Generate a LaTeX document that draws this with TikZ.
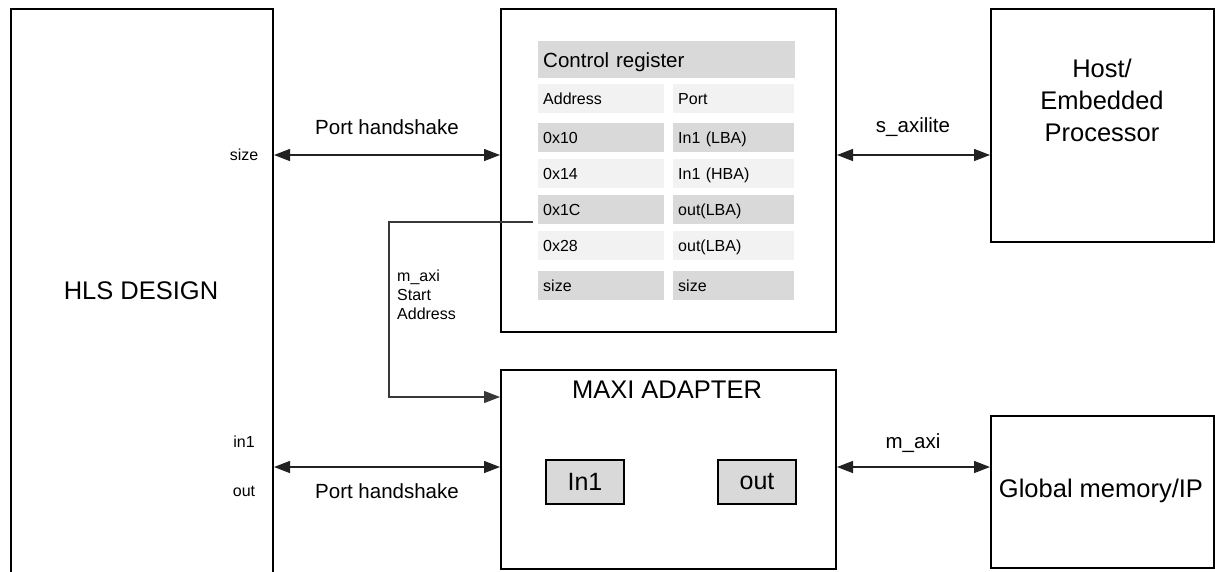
\documentclass[tikz,border=0pt]{standalone}
\usepackage{fontspec}
\setmainfont{Liberation Sans}
\usetikzlibrary{arrows.meta,calc}
\definecolor{cdark}{HTML}{D9D9D9}
\definecolor{clight}{HTML}{F2F2F2}
\definecolor{cline}{HTML}{222222}
\begin{document}
\begin{tikzpicture}[x=1pt,y=-1pt,
  box/.style={draw=black, line width=2pt, inner sep=0pt, anchor=north west},
  conn/.style={draw=cline, line width=1.4pt, {Triangle[length=16pt,width=12pt]}-{Triangle[length=16pt,width=12pt]}},
  startline/.style={draw=cline!90, line width=1.1pt, -{Triangle[length=16pt,width=12pt]}},
  cell/.style={anchor=north west, inner xsep=5pt, inner ysep=0pt, minimum height=29pt, text height=11.5pt, text depth=0.5pt, align=left, font=\fontsize{16}{19}\selectfont},
  lc/.style={cell, text width=116pt},
  rc/.style={cell, text width=111pt},
  dk/.style={fill=cdark},
  lt/.style={fill=clight},
  lbl/.style={font=\fontsize{20.5}{24}\selectfont, inner sep=0pt},
  small/.style={font=\fontsize{16}{19}\selectfont, inner sep=0pt},
  big/.style={font=\fontsize{25.5}{32}\selectfont, inner sep=0pt, align=center},
  port/.style={box, fill=cdark, minimum width=78pt, minimum height=44pt, font=\fontsize{25}{28}\selectfont}
]
\useasboundingbox (0,0) rectangle (1215,571);
\clip (0,0) rectangle (1215,571);

% main boxes
\node[box, minimum width=262pt, minimum height=640pt] (hls) at (10,8) {};
\node[box, minimum width=335pt, minimum height=323pt] (ctrl) at (500,8) {};
\node[box, minimum width=223pt, minimum height=233pt] (host) at (990,8) {};
\node[box, minimum width=335pt, minimum height=199pt] (maxi) at (500,369) {};
\node[box, minimum width=223pt, minimum height=152pt] (glob) at (990,415) {};

% box texts
\node[big] (hlst) at (141,291) {HLS DESIGN};
\node[big] (hostt) at (1102,100) {Host/\\Embedded\\Processor};
\node[big] (globt) at (1101,491) {Global memory/IP};
\node[big] (maxit) at (667,390) {MAXI ADAPTER};
\node[port] (in1box) at (545,459) {In1};
\node[port] (outbox) at (717,459) {out};

% HLS port labels
\node[small] (psize) at (244,155) {size};
\node[small] (pin1) at (244,442) {in1};
\node[small] (pout) at (244,491) {out};

% control register table
\node[cell, fill=cdark, minimum width=257pt, minimum height=37pt, text width=247pt, text height=15pt, text depth=0pt, font=\fontsize{20.5}{24}\selectfont] (hdr) at (538,41) {Control register};
\node[lc, lt] (r0a) at (538,84) {Address};
\node[rc, lt] (r0p) at (673,84) {Port};
\node[lc, dk] (r1a) at (538,123) {0x10};
\node[rc, dk] (r1p) at (673,123) {In1 (LBA)};
\node[lc, lt] (r2a) at (538,159) {0x14};
\node[rc, lt] (r2p) at (673,159) {In1 (HBA)};
\node[lc, dk] (r3a) at (538,195) {0x1C};
\node[rc, dk] (r3p) at (673,195) {out(LBA)};
\node[lc, lt] (r4a) at (538,231) {0x28};
\node[rc, lt] (r4p) at (673,231) {out(LBA)};
\node[lc, dk] (r5a) at (538,271) {size};
\node[rc, dk] (r5p) at (673,271) {size};

% connectors
\coordinate (yA) at (0,155);
\coordinate (yB) at (0,467);
\coordinate (yC) at (0,397);
\draw[conn] (hls.east |- yA) -- (ctrl.west |- yA);
\draw[conn] (ctrl.east |- yA) -- (host.west |- yA);
\draw[conn] (hls.east |- yB) -- (maxi.west |- yB);
\draw[conn] (maxi.east |- yB) -- (glob.west |- yB);

\coordinate (sa) at (533,222);
\coordinate (sb) at (389,222);
\draw[startline] (sa) -- (sb) |- (maxi.west |- yC);

% connector labels
\node[lbl] (ph1) at (387,127) {Port handshake};
\node[lbl] (ph2) at (387,491) {Port handshake};
\node[lbl] (sax) at (913,127) {s\_axilite};
\node[lbl] (max) at (913,443) {m\_axi};
\node[small, align=left, anchor=north west] (msa) at (397,270) {m\_axi\\Start\\Address};
\end{tikzpicture}
\end{document}
